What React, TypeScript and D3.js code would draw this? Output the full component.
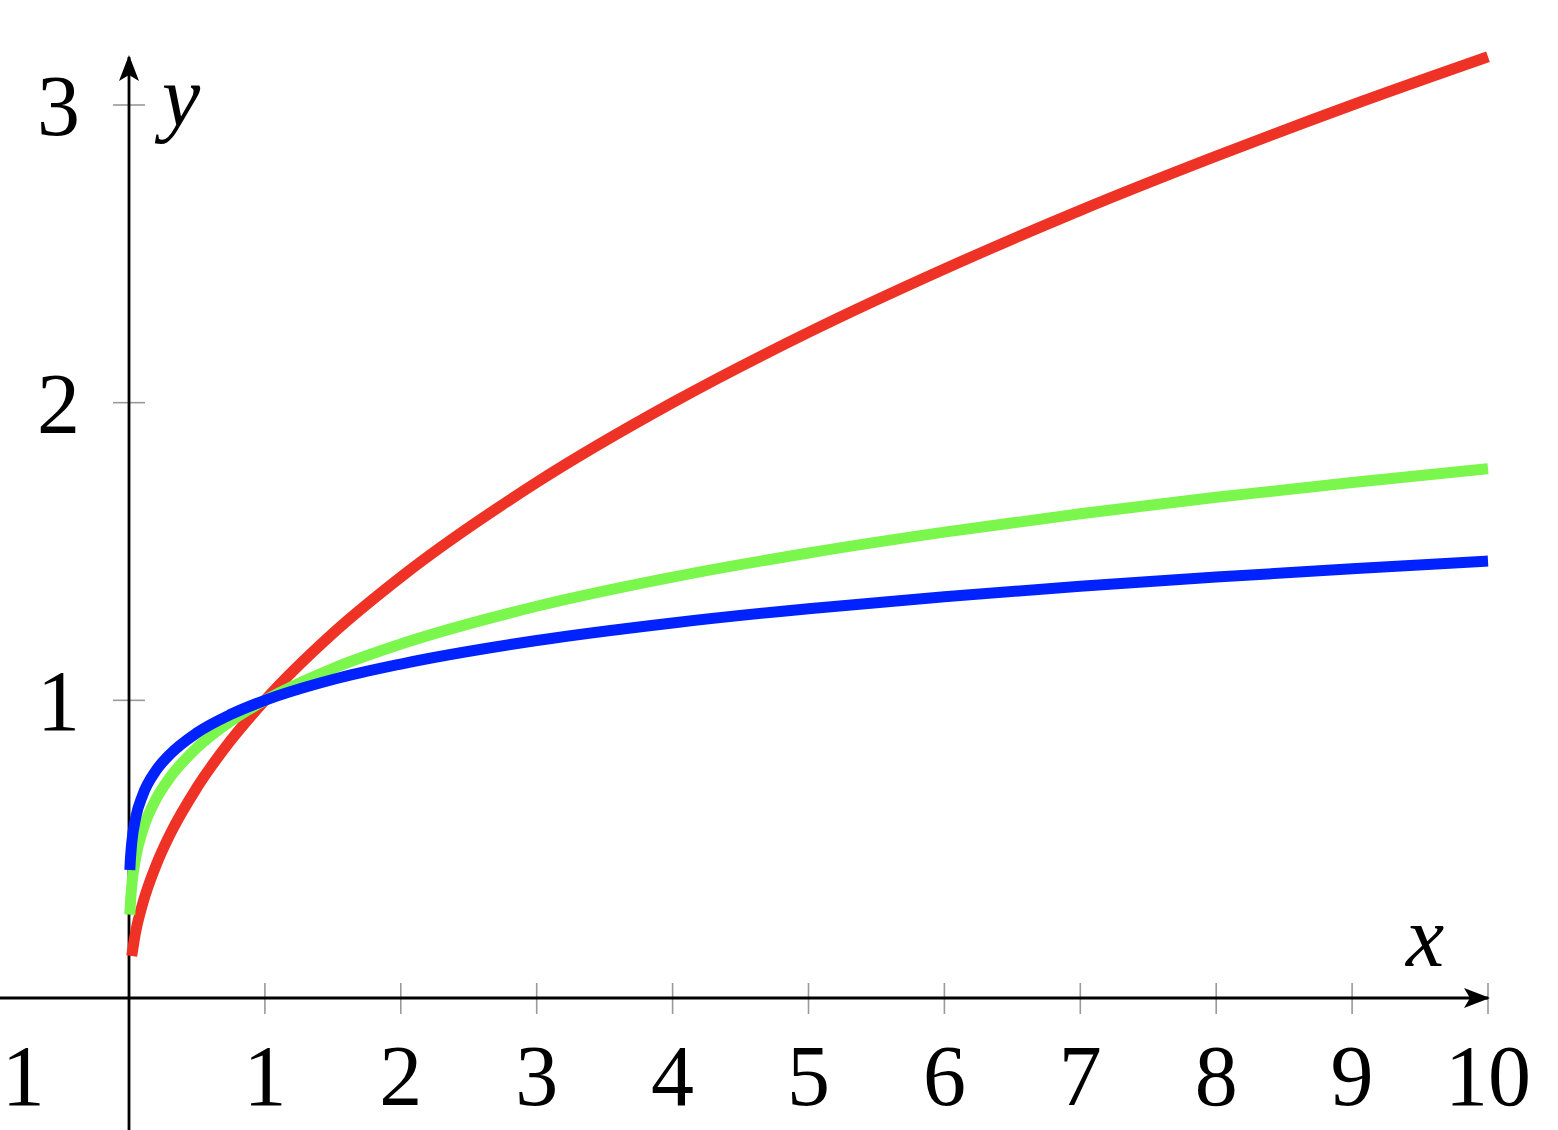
import React from "react";
import * as d3 from "d3";

const W = 1558;
const H = 1130;

const xTicks = [-1, 1, 2, 3, 4, 5, 6, 7, 8, 9, 10];
const yTicks = [1, 2, 3];

const redX = [0.02, 0.05, 0.1, 0.2, 0.3, 0.5, 0.75, 1, 1.5, 2, 3, 4, 5, 6, 7, 8, 9, 10];
const redY = [0.141, 0.224, 0.316, 0.447, 0.548, 0.707, 0.866, 1, 1.225, 1.414, 1.732, 2, 2.236, 2.449, 2.646, 2.828, 3, 3.162];

const greenX = [0.006, 0.01, 0.02, 0.05, 0.1, 0.2, 0.3, 0.5, 0.75, 1, 1.5, 2, 3, 4, 5, 6, 7, 8, 9, 10];
const greenY = [0.28, 0.316, 0.376, 0.473, 0.562, 0.669, 0.74, 0.841, 0.931, 1, 1.107, 1.189, 1.316, 1.414, 1.495, 1.565, 1.627, 1.682, 1.732, 1.778];

const blueX = [0.006, 0.01, 0.02, 0.05, 0.1, 0.2, 0.3, 0.5, 0.75, 1, 1.5, 2, 3, 4, 5, 6, 7, 8, 9, 10];
const blueY = [0.43, 0.464, 0.521, 0.607, 0.681, 0.765, 0.818, 0.891, 0.953, 1, 1.07, 1.122, 1.201, 1.26, 1.308, 1.348, 1.383, 1.414, 1.442, 1.468];

const series = [
  { name: "red", xs: redX, ys: redY, color: "#EE3326" },
  { name: "green", xs: greenX, ys: greenY, color: "#7AF64C" },
  { name: "blue", xs: blueX, ys: blueY, color: "#0022FF" },
];

export default function App() {
  const x = d3.scaleLinear().domain([0, 10]).range([129, 1488]);
  const y = d3.scaleLinear().domain([0, 3]).range([998, 105]);
  const line = d3
    .line<[number, number]>()
    .x((d) => x(d[0]))
    .y((d) => y(d[1]))
    .curve(d3.curveMonotoneX);

  const font = "'Liberation Serif', 'DejaVu Serif', serif";
  const x0 = x(0);
  const y0 = y(0);

  return (
    <svg
      width={W}
      height={H}
      viewBox={`0 0 ${W} ${H}`}
      style={{ position: "absolute", left: 0, top: 0, background: "#fff" }}
    >
      <defs>
        <marker
          id="arr"
          viewBox="0 0 26 22"
          refX="24"
          refY="11"
          markerWidth="26"
          markerHeight="22"
          markerUnits="userSpaceOnUse"
          orient="auto"
        >
          <path d="M0,1 L26,11 L0,21 L6,11 Z" fill="#000" />
        </marker>
      </defs>

      {/* ticks */}
      {xTicks
        .filter((t) => t > 0)
        .map((t) => (
          <line
            key={"xt" + t}
            x1={x(t)}
            x2={x(t)}
            y1={y0 - 15}
            y2={y0 + 16}
            stroke="#999"
            strokeWidth={1.6}
          />
        ))}
      {yTicks.map((t) => (
        <line
          key={"yt" + t}
          x1={x0 - 16}
          x2={x0 + 16}
          y1={y(t)}
          y2={y(t)}
          stroke="#999"
          strokeWidth={1.6}
        />
      ))}

      {/* axes */}
      <line
        x1={0}
        x2={x(10)}
        y1={y0}
        y2={y0}
        stroke="#000"
        strokeWidth={2.8}
        markerEnd="url(#arr)"
      />
      <line
        x1={x0}
        x2={x0}
        y1={H}
        y2={57}
        stroke="#000"
        strokeWidth={2.8}
        markerEnd="url(#arr)"
      />

      {/* curves */}
      {series.map((s) => (
        <path
          key={s.name}
          d={line(s.xs.map((v, i) => [v, s.ys[i]] as [number, number])) || ""}
          fill="none"
          stroke={s.color}
          strokeWidth={11}
          strokeLinecap="butt"
          strokeLinejoin="round"
        />
      ))}

      {/* tick labels */}
      {xTicks.map((t) => (
        <text
          key={"xl" + t}
          x={x(t) + (t < 0 ? 6 : 0)}
          y={1105}
          textAnchor="middle"
          fontFamily={font}
          fontSize={86}
          fill="#000"
        >
          {t < 0 ? "\u2212" + Math.abs(t) : String(t)}
        </text>
      ))}
      {yTicks.map((t) => (
        <text
          key={"yl" + t}
          x={80}
          y={y(t) + 30}
          textAnchor="end"
          fontFamily={font}
          fontSize={86}
          fill="#000"
        >
          {t}
        </text>
      ))}

      {/* axis labels */}
      <text x={162} y={125} fontFamily={font} fontStyle="italic" fontSize={86} fill="#000">
        y
      </text>
      <text x={1406} y={966} fontFamily={font} fontStyle="italic" fontSize={86} fill="#000">
        x
      </text>
    </svg>
  );
}
